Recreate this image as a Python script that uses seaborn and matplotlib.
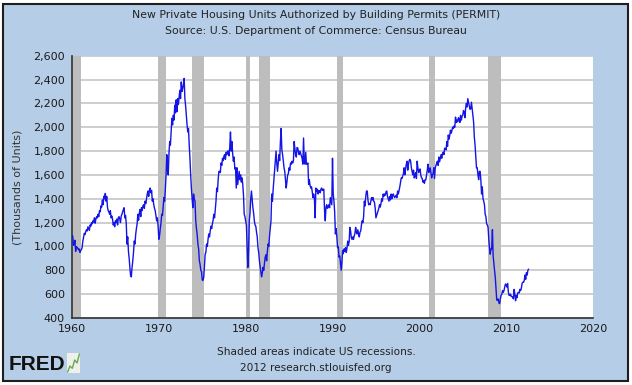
import pandas as pd
import numpy as np
import matplotlib
matplotlib.use('Agg')
import matplotlib.pyplot as plt
import matplotlib.ticker as mticker
from matplotlib.patches import Rectangle
import seaborn as sns

# Monthly building permits (thousands of units, SAAR)
permits_1960s = [
    1092, 1088, 1010, 1016, 1052, 958, 999, 994, 984, 972, 979, 950,
    965, 975, 990, 1045, 1080, 1110, 1100, 1125, 1140, 1130, 1165, 1150,
    1135, 1180, 1170, 1200, 1190, 1215, 1205, 1240, 1195, 1230, 1250, 1240,
    1270, 1250, 1300, 1290, 1340, 1330, 1390, 1350, 1420, 1400, 1445, 1380,
    1420, 1330, 1300, 1290, 1270, 1300, 1240, 1255, 1230, 1180, 1200, 1165,
    1215, 1200, 1230, 1180, 1240, 1250, 1230, 1200, 1255, 1270, 1290, 1310,
    1325, 1240, 1260, 1190, 1020, 1080, 960, 900, 820, 755, 745, 825,
    880, 950, 1045, 1020, 1100, 1150, 1190, 1270, 1220, 1280, 1310, 1250,
    1325, 1300, 1340, 1350, 1320, 1380, 1360, 1400, 1440, 1465, 1420, 1470,
    1490, 1450, 1470, 1380, 1400, 1350, 1320, 1300, 1260, 1215, 1240, 1170,
]
permits_1970s = [
    1060, 1090, 1150, 1200, 1270, 1260, 1330, 1410, 1380, 1480, 1600, 1770,
    1640, 1600, 1780, 1880, 1850, 1960, 2075, 2020, 2100, 2060, 2185, 2120,
    2230, 2130, 2240, 2190, 2250, 2310, 2240, 2380, 2300, 2325, 2360, 2410,
    2240, 2180, 2100, 2020, 1960, 1990, 1850, 1740, 1600, 1490, 1400, 1325,
    1440, 1400, 1380, 1215, 1150, 1100, 1020, 980, 880, 850, 800, 790,
    720, 715, 740, 830, 935, 950, 1020, 1000, 1060, 1105, 1080, 1130,
    1170, 1150, 1190, 1220, 1270, 1240, 1310, 1380, 1490, 1460, 1560, 1630,
    1630, 1620, 1700, 1680, 1740, 1720, 1760, 1770, 1730, 1790, 1770, 1800,
    1800, 1760, 1830, 1960, 1800, 1880, 1780, 1715, 1750, 1650, 1660, 1490,
    1660, 1520, 1575, 1630, 1560, 1600, 1540, 1575, 1520, 1430, 1270, 1250,
]
permits_1980s = [
    1215, 1180, 1000, 825, 960, 1215, 1280, 1400, 1465, 1390, 1325, 1280,
    1215, 1180, 1170, 1120, 1080, 990, 950, 880, 830, 790, 745, 780,
    825, 800, 860, 910, 930, 880, 960, 1020, 1000, 1090, 1150, 1215,
    1440, 1380, 1480, 1560, 1630, 1720, 1800, 1700, 1630, 1700, 1770, 1720,
    1880, 1990, 1810, 1770, 1720, 1660, 1630, 1560, 1490, 1540, 1600, 1610,
    1660, 1640, 1700, 1690, 1715, 1700, 1720, 1880, 1820, 1770, 1750, 1830,
    1825, 1790, 1770, 1800, 1780, 1760, 1740, 1690, 1910, 1700, 1690, 1790,
    1690, 1690, 1700, 1520, 1560, 1510, 1490, 1500, 1460, 1410, 1440, 1400,
    1240, 1490, 1460, 1480, 1440, 1470, 1465, 1450, 1480, 1490, 1470, 1480,
    1480, 1300, 1215, 1330, 1350, 1320, 1330, 1350, 1325, 1410, 1380, 1350,
]
permits_1990s = [
    1740, 1440, 1380, 1290, 1105, 1150, 1080, 990, 1000, 910, 920, 860,
    800, 870, 965, 940, 980, 960, 990, 950, 985, 1045, 1010, 1040,
    1160, 1130, 1075, 1060, 1080, 1060, 1090, 1110, 1160, 1120, 1105, 1140,
    1105, 1080, 1120, 1130, 1180, 1215, 1200, 1250, 1380, 1340, 1420, 1465,
    1465, 1390, 1350, 1360, 1350, 1380, 1410, 1390, 1410, 1380, 1370, 1320,
    1240, 1260, 1280, 1300, 1320, 1350, 1330, 1360, 1400, 1380, 1440, 1420,
    1440, 1430, 1460, 1465, 1420, 1400, 1380, 1420, 1390, 1440, 1400, 1430,
    1440, 1420, 1410, 1420, 1430, 1410, 1465, 1440, 1470, 1500, 1540, 1575,
    1570, 1590, 1610, 1660, 1600, 1650, 1690, 1715, 1640, 1690, 1720, 1730,
    1715, 1660, 1630, 1600, 1640, 1575, 1600, 1620, 1570, 1715, 1660, 1620,
]
permits_2000s = [
    1640, 1650, 1600, 1575, 1570, 1540, 1550, 1530, 1560, 1560, 1600, 1640,
    1690, 1620, 1650, 1660, 1620, 1575, 1600, 1610, 1660, 1570, 1660, 1680,
    1700, 1715, 1680, 1750, 1710, 1740, 1770, 1740, 1780, 1790, 1770, 1825,
    1820, 1810, 1880, 1840, 1935, 1900, 1930, 1975, 1950, 1970, 2000, 1990,
    2010, 2000, 2085, 2040, 2060, 2045, 2080, 2070, 2040, 2100, 2060, 2090,
    2100, 2140, 2130, 2080, 2160, 2200, 2170, 2240, 2210, 2180, 2150, 2155,
    2210, 2155, 2100, 2045, 1920, 1850, 1760, 1660, 1660, 1600, 1560, 1630,
    1630, 1560, 1440, 1500, 1400, 1380, 1350, 1270, 1250, 1190, 1180, 1160,
    1060, 985, 935, 980, 980, 1140, 920, 855, 790, 735, 635, 550,
    550, 560, 525, 520, 560, 590, 600, 630, 615, 630, 660, 685,
]
permits_2010s = [
    680, 660, 690, 620, 590, 590, 600, 580, 580, 575, 560, 640,
    600, 545, 590, 570, 610, 615, 610, 640, 630, 650, 690, 700,
    700, 715, 760, 725, 780, 760, 800, 810,
]

recession_start = ['1960-01', '1969-12', '1973-11', '1980-01', '1981-07', '1990-07', '2001-03', '2007-12']
recession_end = ['1961-02', '1970-11', '1975-03', '1980-07', '1982-11', '1991-03', '2001-11', '2009-06']

year_ticks = [1960, 1970, 1980, 1990, 2000, 2010, 2020]
unit_ticks = [400, 600, 800, 1000, 1200, 1400, 1600, 1800, 2000, 2200, 2400, 2600]


def decimal_year(stamp):
    stamp = pd.Timestamp(stamp)
    return stamp.year + (stamp.month - 1) / 12


values = permits_1960s + permits_1970s + permits_1980s + permits_1990s + permits_2000s + permits_2010s
dates = pd.date_range('1960-01-01', periods=len(values), freq='MS')
df = pd.DataFrame({'year': dates.year + (dates.month - 1) / 12, 'permits': values})

sns.set_style('white')
plt.rcParams['font.family'] = ['DejaVu Sans']

fig = plt.figure(figsize=(6.32, 3.85), dpi=100, facecolor='white')
# light blue FRED panel with dark frame, kept behind the axes
fig.patches.append(Rectangle((3 / 632, 4 / 385), 625 / 632, 377 / 385, transform=fig.transFigure,
                             facecolor='#b5cde6', edgecolor='#1e1e1e', linewidth=1.5, zorder=-10))

ax = fig.add_axes([72 / 632, 67 / 385, 521 / 632, 262.3 / 385])
ax.set_facecolor('white')

for s, e in zip(recession_start, recession_end):
    ax.axvspan(decimal_year(s), decimal_year(e), color='#bdbdbd', lw=0, zorder=1)

sns.lineplot(data=df, x='year', y='permits', ax=ax, color='#1414e6', linewidth=1.0, zorder=3)

ax.set_xlim(1960, 2020)
ax.set_ylim(400, 2600)
ax.set_xticks(year_ticks)
ax.set_yticks(unit_ticks)
ax.yaxis.set_major_formatter(mticker.StrMethodFormatter('{x:,.0f}'))
ax.yaxis.grid(True, color='#c6c6c6', linewidth=1.2)
ax.xaxis.grid(False)
ax.set_axisbelow(True)
ax.set_xlabel('')
ax.set_ylabel('')

for side in ['top', 'right']:
    ax.spines[side].set_visible(False)
for side in ['left', 'bottom']:
    ax.spines[side].set_color('#333333')
    ax.spines[side].set_linewidth(1.2)

ax.tick_params(axis='y', direction='out', length=3.5, width=1, color='#333333', pad=1.5,
               labelsize=8, labelcolor='#1a1a1a')
ax.tick_params(axis='x', direction='in', length=3.5, width=1, color='#333333', pad=4.5,
               labelsize=8, labelcolor='#1a1a1a')

fig.text(18 / 632, 1 - 187 / 385, '(Thousands of Units)', rotation=90, ha='center', va='center',
         fontsize=8, color='#333333')

fig.text(0.5, 1 - 15 / 385, 'New Private Housing Units Authorized by Building Permits (PERMIT)',
         ha='center', va='center', fontsize=7.8, color='#222222')
fig.text(0.5, 1 - 31 / 385, 'Source: U.S. Department of Commerce: Census Bureau',
         ha='center', va='center', fontsize=7.8, color='#222222')

fig.text(0.5, 1 - 352 / 385, 'Shaded areas indicate US recessions.',
         ha='center', va='center', fontsize=7.6, color='#222222')
fig.text(0.5, 1 - 368 / 385, '2012 research.stlouisfed.org',
         ha='center', va='center', fontsize=7.6, color='#222222')

# FRED logo
fig.text(9 / 632, 1 - 364 / 385, 'FRED', ha='left', va='center', fontsize=15,
         fontweight='bold', family=['Liberation Sans', 'DejaVu Sans'], color='#111111')
icon_trace = [1.0, 1.8, 1.5, 2.6, 2.2, 3.4]
icon = fig.add_axes([67 / 632, 1 - 373 / 385, 13 / 632, 20 / 385])
icon.set_facecolor('#eef0ea')
icon.plot(icon_trace, color='#6aa84f', linewidth=1)
icon.set_xticks([])
icon.set_yticks([])
for sp in icon.spines.values():
    sp.set_visible(False)

fig.savefig('out.png', dpi=100, facecolor=fig.get_facecolor())
